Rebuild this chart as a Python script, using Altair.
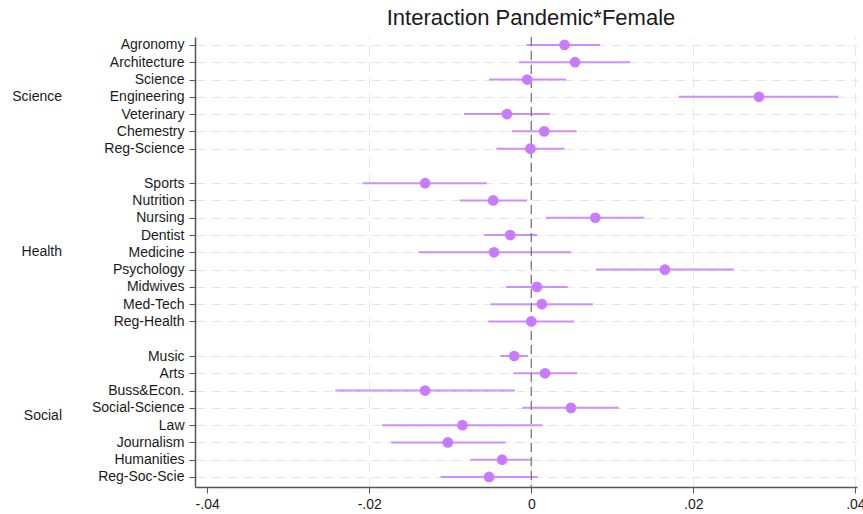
import altair as alt
import pandas as pd

group_names = ["Science", "Health", "Social"]
science = ["Agronomy", "Architecture", "Science", "Engineering", "Veterinary", "Chemestry", "Reg-Science"]
health = ["Sports", "Nutrition", "Nursing", "Dentist", "Medicine", "Psychology", "Midwives", "Med-Tech", "Reg-Health"]
social = ["Music", "Arts", "Buss&Econ.", "Social-Science", "Law", "Journalism", "Humanities", "Reg-Soc-Scie"]

estimate = [0.0041, 0.0054, -0.0005, 0.0281, -0.0030, 0.0016, -0.0001,
            -0.0131, -0.0047, 0.0079, -0.0026, -0.0046, 0.0165, 0.0007, 0.0013, 0.0000,
            -0.0021, 0.0017, -0.0131, 0.0049, -0.0085, -0.0103, -0.0036, -0.0052]
ci_low = [-0.0006, -0.0015, -0.0052, 0.0182, -0.0083, -0.0024, -0.0043,
          -0.0208, -0.0088, 0.0018, -0.0058, -0.0139, 0.0080, -0.0031, -0.0050, -0.0053,
          -0.0038, -0.0022, -0.0242, -0.0011, -0.0184, -0.0173, -0.0075, -0.0112]
ci_high = [0.0085, 0.0122, 0.0043, 0.0379, 0.0023, 0.0056, 0.0041,
           -0.0055, -0.0005, 0.0139, 0.0007, 0.0049, 0.0250, 0.0045, 0.0076, 0.0053,
           -0.0004, 0.0057, -0.0020, 0.0108, 0.0014, -0.0032, 0.0001, 0.0008]
x_ticks = [-0.04, -0.02, 0, 0.02, 0.04]

# row slots, one blank row between groups
rows, grp, slot = [], [], []
s = 0
for g, names in zip(group_names, [science, health, social]):
    for n in names:
        rows.append(n)
        grp.append(g)
        slot.append(s)
        s += 1
    s += 1
n_slots = s - 1

df = pd.DataFrame({"name": rows, "group": grp, "slot": slot,
                   "est": estimate, "lo": ci_low, "hi": ci_high})
gdf = df.groupby("group", sort=False)["slot"].mean().reset_index()

label_arr = [""] * n_slots
for n, sl in zip(rows, slot):
    label_arr[sl] = n
label_expr = "[" + ",".join("'" + l + "'" for l in label_arr) + "][datum.value]"

FONT = "Liberation Sans"
PURPLE = "#C77CFF"

yscale = alt.Scale(domain=[-0.46, n_slots - 1 + 0.58], reverse=True, nice=False, zero=False)
xscale = alt.Scale(domain=[-0.0415, 0.0402], nice=False, zero=False)

y_axis = alt.Axis(values=slot, labelExpr=label_expr, title=None, labelOverlap=False,
                  grid=True, gridDash=[10, 6], gridColor="#e6e6e6", gridWidth=1,
                  labelFont=FONT, labelFontSize=14, labelColor="#1a1a1a",
                  tickSize=6, tickColor="#555", domainColor="#555", domainWidth=1.5,
                  labelPadding=5)
x_axis = alt.Axis(values=x_ticks, title=None, labelOverlap=False,
                  labelExpr="datum.value == 0 ? '0' : (datum.value < 0 ? '-' : '') + replace(format(abs(datum.value), '.2f'), '0.', '.')",
                  grid=True, gridDash=[10, 6], gridWidth=1,
                  gridColor={"condition": {"test": "datum.value < -0.03", "value": "transparent"},
                             "value": "#e6e6e6"},
                  labelFont=FONT, labelFontSize=14, labelColor="#1a1a1a",
                  tickSize=6, tickColor="#555", domainColor="#555", domainWidth=1.5,
                  labelPadding=4)

base = alt.Chart(df)

bars = base.mark_rule(color=PURPLE, strokeWidth=2, opacity=0.85).encode(
    x=alt.X("lo:Q", scale=xscale, axis=x_axis),
    x2="hi:Q",
    y=alt.Y("slot:Q", scale=yscale, axis=y_axis),
)

zero = alt.Chart(pd.DataFrame({"z": [0]})).mark_rule(color="#777", strokeDash=[9, 5], strokeWidth=1.3).encode(
    x=alt.X("z:Q", scale=xscale, axis=x_axis),
)

pts = base.mark_circle(color=PURPLE, size=115, opacity=1).encode(
    x=alt.X("est:Q", scale=xscale, axis=x_axis),
    y=alt.Y("slot:Q", scale=yscale, axis=y_axis),
)

glabels = alt.Chart(gdf).mark_text(align="right", baseline="middle", font=FONT, fontSize=14, color="#1a1a1a").encode(
    x=alt.value(-133),
    y=alt.Y("slot:Q", scale=yscale, axis=y_axis),
    text="group:N",
)

chart = alt.layer(bars, zero, pts, glabels).properties(
    width=662, height=450,
    background="white",
    title=alt.TitleParams("Interaction Pandemic*Female", font=FONT, fontSize=22,
                          fontWeight="normal", color="#1a1a1a", anchor="middle", offset=6, dx=5),
    autosize=alt.AutoSizeParams(type="none"),
    padding={"left": 195, "top": 37, "right": 6, "bottom": 27},
).configure_view(stroke=None).configure_axis(labelOverlap=False)

chart.save("out.html", embed_options={"renderer": "svg", "actions": False})
